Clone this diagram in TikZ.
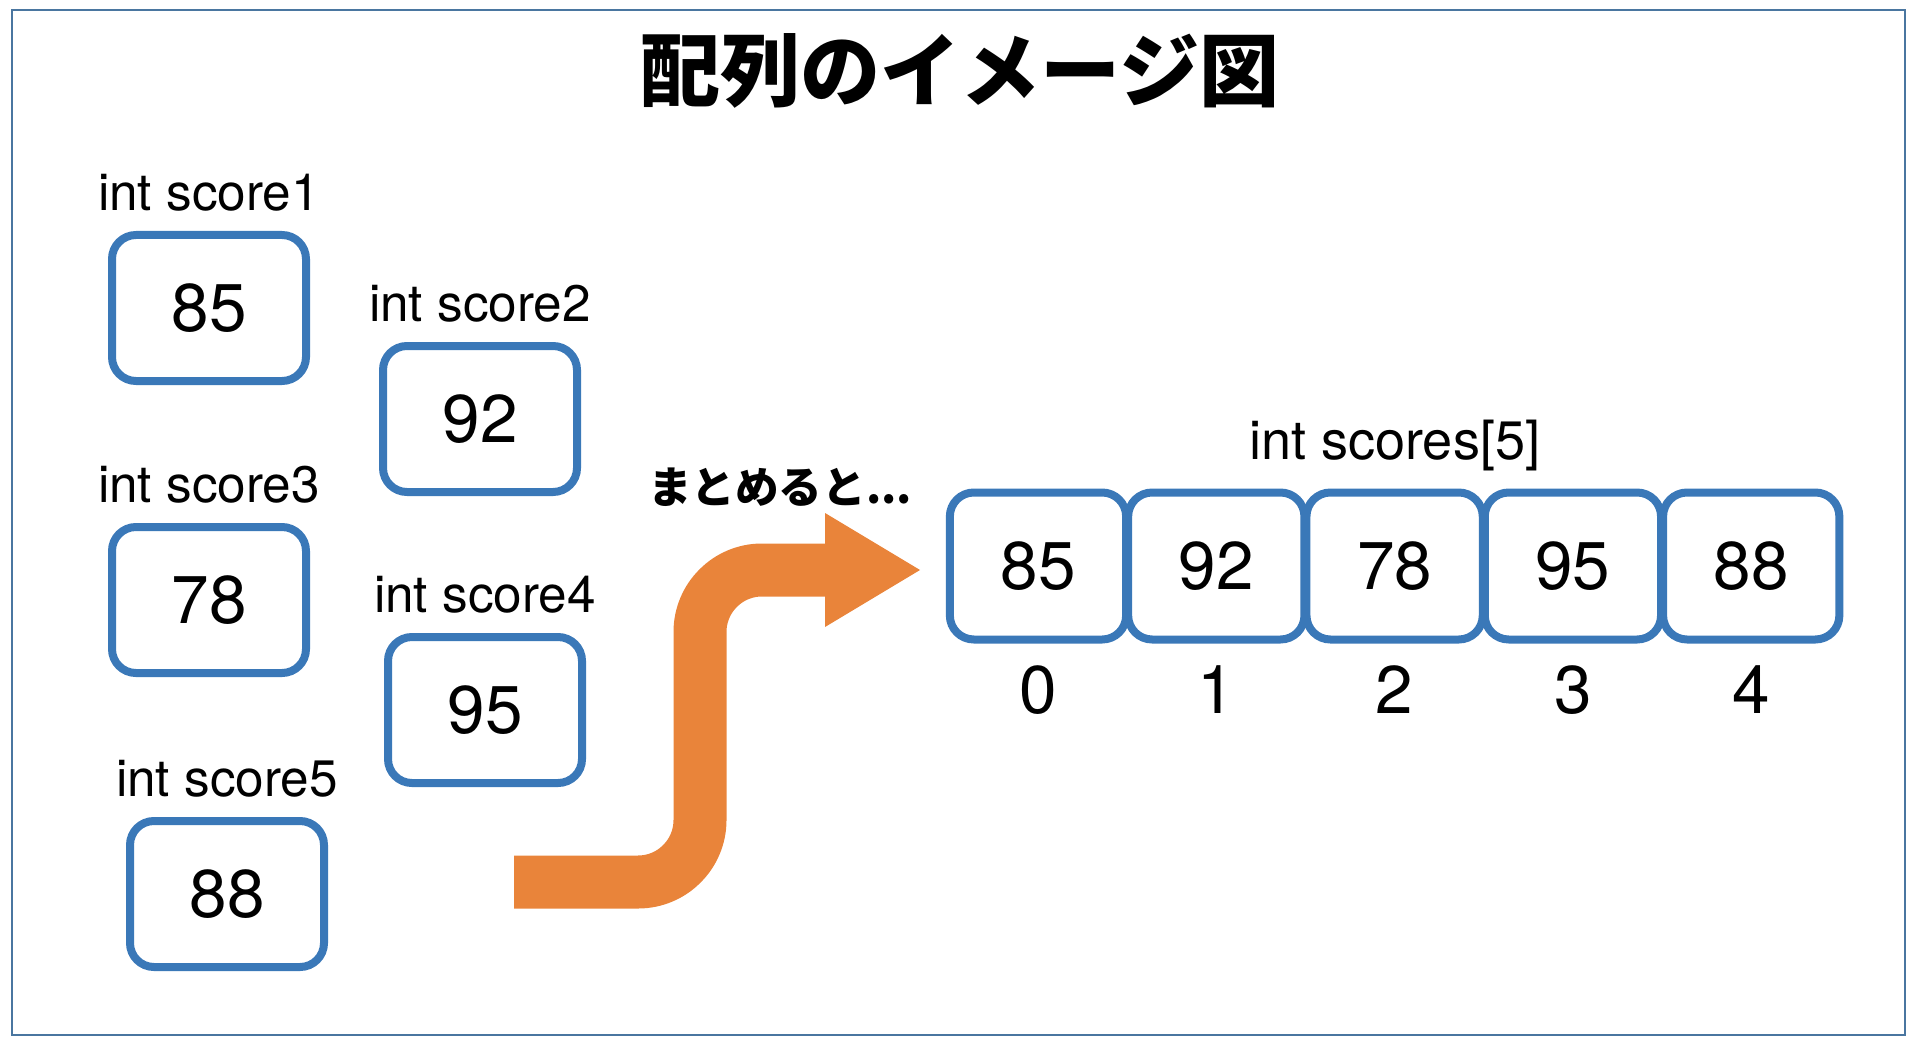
\documentclass[tikz,border=0pt]{standalone}
\usepackage{fontspec}
\usepackage{tikz}
\usetikzlibrary{calc}
\setmainfont{TeX Gyre Heros}
\newfontfamily\jpfont{Noto Sans CJK JP}
\definecolor{boxblue}{HTML}{3A78B8}
\definecolor{framecol}{HTML}{4A76A0}
\definecolor{arroworange}{HTML}{E9843A}
\tikzset{
  cell/.style={draw=boxblue, line width=0.08cm, rounded corners=0.24cm,
    minimum width=1.94cm, minimum height=1.46cm, inner sep=0pt,
    font=\fontsize{19.2}{21}\selectfont},
  arrcell/.style={cell, minimum width=1.763cm, minimum height=1.47cm},
  varlab/.style={anchor=base, inner sep=0pt, font=\fontsize{14.6}{16}\selectfont},
  idx/.style={anchor=base, inner sep=0pt, font=\fontsize{19.2}{21}\selectfont},
  flow/.style={draw=arroworange, line width=0.53cm, rounded corners=0.62cm},
  flowhead/.style={fill=arroworange}
}

\begin{document}
\begin{tikzpicture}
  \useasboundingbox (0,0) rectangle (19.2,10.47);
  \draw[framecol, line width=0.8pt] (0.12,0.12) rectangle (19.05,10.37);

  \node[font=\jpfont\bfseries\fontsize{22.8}{26}\selectfont] (title) at (9.60,9.76) {配列のイメージ図};

  % separate variables
  \node[cell] (s1) at (2.09,7.39) {85};
  \node[cell] (s2) at (4.80,6.28) {92};
  \node[cell] (s3) at (2.09,4.47) {78};
  \node[cell] (s4) at (4.85,3.37) {95};
  \node[cell] (s5) at (2.27,1.53) {88};
  \node[varlab] (l1) at ($(s1.north)+(0,0.205)$) {int score1};
  \node[varlab] (l2) at ($(s2.north)+(0,0.205)$) {int score2};
  \node[varlab] (l3) at ($(s3.north)+(0,0.205)$) {int score3};
  \node[varlab] (l4) at ($(s4.north)+(0,0.205)$) {int score4};
  \node[varlab] (l5) at ($(s5.north)+(0,0.205)$) {int score5};

  % bent arrow
  \coordinate (a0) at (5.14,1.65);
  \coordinate (a1) at (7.00,4.77);
  \coordinate (a2) at (8.30,4.77);
  \coordinate (h1) at (8.25,5.34);
  \coordinate (h2) at (9.20,4.77);
  \coordinate (h3) at (8.25,4.20);
  \draw[flow] (a0) -| (a1) -- (a2);
  \fill[flowhead] (h1) -- (h2) -- (h3) -- cycle;
  \node[font=\jpfont\bfseries\fontsize{12.4}{14}\selectfont] (sum) at (7.80,5.60) {まとめると...};

  % the array
  \foreach \v [count=\i from 0] in {85,92,78,95,88} {
    \node[arrcell] (c\i) at (10.38+1.783*\i,4.81) {\v};
    \node[idx] (n\i) at ($(c\i.south)+(0,-0.70)$) {\i};
  }
  \node[varlab, font=\fontsize{15.4}{17}\selectfont] (arrlab) at ($(c2.north)+(0,0.29)$) {int scores[5]};
\end{tikzpicture}
\end{document}
